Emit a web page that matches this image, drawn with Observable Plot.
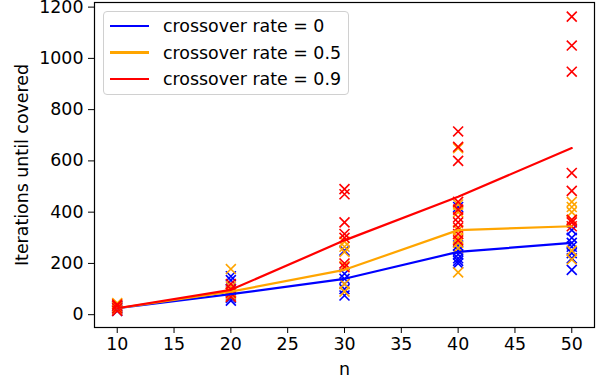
<!DOCTYPE html>
<html>
<head>
<meta charset="utf-8">
<script src="https://cdn.jsdelivr.net/npm/d3@7"></script>
<script src="https://cdn.jsdelivr.net/npm/@observablehq/plot@0.6"></script>
<style>
  body { margin: 0; background: #fff; }
  #wrap { position: relative; width: 601px; height: 381px; font-family: "DejaVu Sans", sans-serif; }
  #legend { position: absolute; left: 103px; top: 11px; width: 246px; height: 84px; box-sizing: border-box;
    border: 1px solid #d0d0d0; border-radius: 4px; background: rgba(255,255,255,0.8); }
  .row { position: absolute; left: 0; height: 22px; display: flex; align-items: center; font-size: 17.4px; color: #000; white-space: nowrap; }
  .sw { width: 39px; height: 2.2px; margin-left: 6px; margin-right: 14px; }
</style>
</head>
<body>
<div id="wrap"></div>
<script>
const nValues = [10, 20, 30, 40, 50];
const seriesLabels = ["crossover rate = 0", "crossover rate = 0.5", "crossover rate = 0.9"];
const seriesColors = ["blue", "orange", "red"];

// mean lines
const meanRate0 = [25, 80, 140, 245, 280];
const meanRate05 = [25, 90, 175, 330, 345];
const meanRate09 = [25, 97, 290, 460, 650];

// individual runs per n
const runsRate0 = {
  10: [15, 20, 25, 30, 35],
  20: [150, 135, 95, 75, 65, 55],
  30: [250, 160, 140, 120, 100, 75],
  40: [420, 270, 250, 235, 220, 210, 200],
  50: [330, 300, 280, 265, 240, 220, 175]
};
const runsRate05 = {
  10: [20, 30, 40, 45],
  20: [178, 110, 90, 80, 70],
  30: [285, 265, 245, 190, 120, 90],
  40: [650, 430, 400, 330, 300, 280, 260, 165],
  50: [440, 420, 400, 370, 250, 215]
};
const runsRate09 = {
  10: [15, 25, 35, 40],
  20: [120, 100, 85, 70],
  30: [490, 470, 360, 315, 300, 200, 185],
  40: [715, 655, 600, 440, 410, 380, 360, 340, 315, 290],
  50: [1163, 1050, 948, 553, 483, 370, 360, 345]
};

const xTicks = [10, 15, 20, 25, 30, 35, 40, 45, 50];
const yTicks = [0, 200, 400, 600, 800, 1000, 1200];

const means = [meanRate0, meanRate05, meanRate09];
const runs = [runsRate0, runsRate05, runsRate09];

const lineData = [];
means.forEach((arr, s) => arr.forEach((v, i) => lineData.push({n: nValues[i], v, s})));
const pointData = [];
runs.forEach((obj, s) => nValues.forEach(n => obj[n].forEach(v => pointData.push({n, v, s}))));

const marks = [];
for (let s = 0; s < 3; s++) {
  marks.push(Plot.dot(pointData.filter(d => d.s === s), {x: "n", y: "v", symbol: "times", r: 4.6, stroke: seriesColors[s], strokeWidth: 1.6}));
}
for (let s = 0; s < 3; s++) {
  marks.push(Plot.line(lineData.filter(d => d.s === s), {x: "n", y: "v", stroke: seriesColors[s], strokeWidth: 2.2}));
}
marks.push(Plot.frame({stroke: "black", strokeWidth: 1.2}));

const chart = Plot.plot({
  width: 601,
  height: 381,
  marginLeft: 94,
  marginRight: 7,
  marginTop: 2,
  marginBottom: 54,
  style: {fontFamily: "DejaVu Sans, sans-serif", fontSize: "17.4px", color: "black", background: "white"},
  x: {domain: [8, 52], ticks: xTicks, tickFormat: d => String(d), tickSize: 6, tickPadding: 4, label: "n", labelAnchor: "center", labelArrow: "none", labelOffset: 47},
  y: {domain: [-50, 1218], ticks: yTicks, tickFormat: d => String(d), tickSize: 6, tickPadding: 5, label: "Iterations until covered", labelAnchor: "center", labelArrow: "none", labelOffset: 79},
  marks
});
document.getElementById("wrap").appendChild(chart);

const legend = document.createElement("div");
legend.id = "legend";
seriesLabels.forEach((lab, i) => {
  const row = document.createElement("div");
  row.className = "row";
  row.style.top = (3 + i * 26.5) + "px";
  const sw = document.createElement("div");
  sw.className = "sw";
  sw.style.background = seriesColors[i];
  row.appendChild(sw);
  const t = document.createElement("span");
  t.textContent = lab;
  row.appendChild(t);
  legend.appendChild(row);
});
document.getElementById("wrap").appendChild(legend);
</script>
</body>
</html>
